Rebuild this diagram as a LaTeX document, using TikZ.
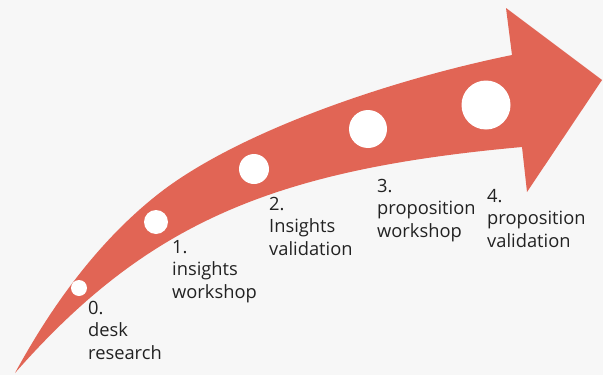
\documentclass[tikz,border=0pt]{standalone}
\usepackage{fontspec}
\setmainfont{Open Sans}
\definecolor{bgcol}{HTML}{F7F7F7}
\definecolor{arrowred}{HTML}{E16555}
\definecolor{labelcol}{HTML}{222222}
\begin{document}
\begin{tikzpicture}[x=1pt,y=-1pt,
  steplabel/.style={anchor=base west, inner sep=0pt, align=left,
    font=\fontsize{18.3}{22.5}\selectfont, text=labelcol},
  dot/.style={circle, fill=white, inner sep=0pt}]
% canvas
\fill[bgcol] (0,0) rectangle (603,375);
\useasboundingbox (0,0) rectangle (603,375);
% curved arrow body and head
\fill[arrowred] (15,373)
  .. controls (51.5,306) and (97.7,242) .. (157,195)
  .. controls (235,133) and (387.5,80.4) .. (512,55)
  -- (506,8) -- (602,80) -- (527,192) -- (522,147)
  .. controls (273,169.5) and (147,223) .. (15,373) -- cycle;
% milestone dots, growing along the arrow
\node[dot, minimum size=16pt] (d0) at (79,288) {};
\node[dot, minimum size=24pt] (d1) at (156,222) {};
\node[dot, minimum size=30pt] (d2) at (254,169) {};
\node[dot, minimum size=38pt] (d3) at (368,129) {};
\node[dot, minimum size=49pt] (d4) at (486,105) {};
% step labels (anchored at the baseline of their last line)
\node[steplabel] (l0) at (88,359) {0.\\desk\\research};
\node[steplabel] (l1) at (172,298) {1.\\insights\\workshop};
\node[steplabel] (l2) at (269,255) {2.\\Insights\\validation};
\node[steplabel] (l3) at (377,237) {3.\\proposition\\workshop};
\node[steplabel] (l4) at (487,247) {4.\\proposition\\validation};
\end{tikzpicture}
\end{document}
